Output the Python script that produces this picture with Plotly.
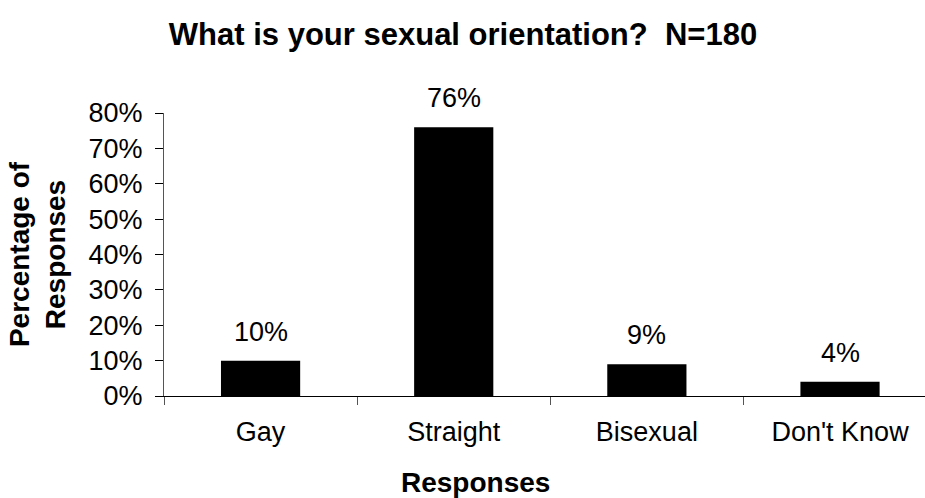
import plotly.graph_objects as go

# Survey results: share of respondents per answer (N=180)
categories = ["Gay", "Straight", "Bisexual", "Don't Know"]
percentages = [10, 76, 9, 4]
y_ticks = [0, 10, 20, 30, 40, 50, 60, 70, 80]

FONT = "Liberation Sans, Arial, sans-serif"

fig = go.Figure(
    go.Bar(
        x=categories,
        y=percentages,
        width=0.41,
        marker=dict(color="black", line=dict(width=0)),
        hoverinfo="skip",
    )
)

# Value labels above each bar
for cat, val in zip(categories, percentages):
    fig.add_annotation(
        x=cat, y=val, text=f"{val}%", showarrow=False,
        xanchor="center", yanchor="bottom", yshift=12,
        font=dict(family=FONT, size=27, color="black"),
    )

# Horizontal axis title
fig.add_annotation(
    text="<b>Responses</b>", showarrow=False,
    xref="paper", yref="paper", x=(475 - 164) / 761, y=-86 / 283,
    xanchor="center", yanchor="middle",
    font=dict(family=FONT, size=28, color="black"),
)

fig.update_layout(
    width=925, height=498,
    margin=dict(l=164, r=0, t=113, b=102),
    paper_bgcolor="white", plot_bgcolor="white",
    showlegend=False,
    title=dict(
        text="<b>What is your sexual orientation?  N=180</b>",
        x=463 / 925, xref="container", xanchor="center",
        y=1 - 34 / 498, yref="container", yanchor="middle",
        font=dict(family=FONT, size=31, color="black"),
    ),
    xaxis=dict(
        range=[-0.5, 3.44],
        showline=True, linecolor="black", linewidth=1,
        ticks="outside", tickson="boundaries", ticklen=8, tickcolor="#555",
        ticklabelstandoff=12,
        tickfont=dict(family=FONT, size=27, color="black"),
        showgrid=False, zeroline=False, fixedrange=True,
    ),
    yaxis=dict(
        range=[0, 80],
        tickvals=y_ticks, ticktext=[f"{t}%" for t in y_ticks],
        showline=True, linecolor="#555", linewidth=1,
        ticks="outside", ticklen=8, tickcolor="black",
        ticklabelstandoff=7,
        tickfont=dict(family=FONT, size=27, color="black"),
        title=dict(text="<b>Percentage of<br>Responses</b>", standoff=14,
                   font=dict(family=FONT, size=28, color="black")),
        showgrid=False, zeroline=False, fixedrange=True,
    ),
)

fig.write_html("out.html")
